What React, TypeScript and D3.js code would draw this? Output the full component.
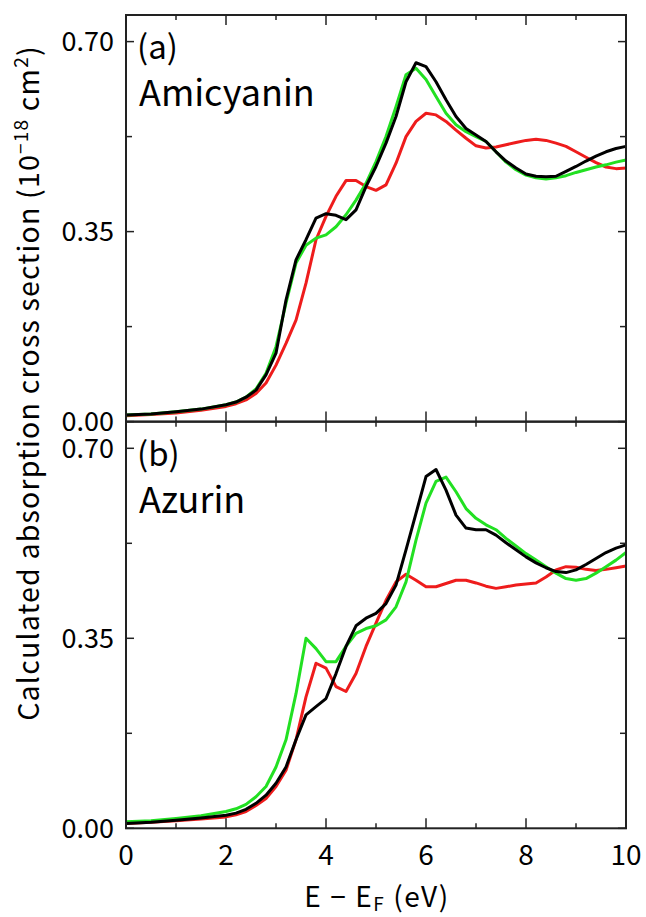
import { useEffect, useRef } from 'react';
import * as d3 from 'd3';

const ENERGY = [0, 0.5, 1, 1.5, 2, 2.2, 2.4, 2.6, 2.8, 3.0, 3.2, 3.4, 3.6, 3.8, 4.0, 4.2, 4.4, 4.6, 4.8, 5.0,
  5.2, 5.4, 5.6, 5.8, 6.0, 6.2, 6.4, 6.6, 6.8, 7.0, 7.2, 7.4, 7.6, 7.8, 8.0, 8.2, 8.4, 8.6, 8.8, 9.0,
  9.2, 9.4, 9.6, 9.8, 10.0];

const AMI_BLACK = [0.012, 0.014, 0.018, 0.023, 0.031, 0.036, 0.045, 0.058, 0.086, 0.126, 0.224, 0.298, 0.335, 0.375, 0.383,
  0.38, 0.372, 0.39, 0.433, 0.47, 0.513, 0.562, 0.626, 0.661, 0.654, 0.626, 0.593, 0.562, 0.54, 0.528,
  0.516, 0.497, 0.48, 0.467, 0.456, 0.452, 0.451, 0.452, 0.461, 0.47, 0.48, 0.489, 0.497, 0.503, 0.507];
const AMI_GREEN = [0.012, 0.014, 0.018, 0.023, 0.031, 0.036, 0.045, 0.06, 0.089, 0.138, 0.218, 0.292, 0.325, 0.338, 0.344,
  0.359, 0.381, 0.408, 0.439, 0.479, 0.525, 0.58, 0.639, 0.651, 0.63, 0.599, 0.568, 0.547, 0.534, 0.525,
  0.516, 0.497, 0.478, 0.464, 0.454, 0.449, 0.447, 0.449, 0.453, 0.459, 0.464, 0.469, 0.473, 0.478, 0.482];
const AMI_RED = [0.011, 0.013, 0.016, 0.021, 0.028, 0.033, 0.04, 0.052, 0.071, 0.104, 0.144, 0.187, 0.255, 0.335, 0.378,
  0.415, 0.444, 0.444, 0.433, 0.426, 0.436, 0.476, 0.525, 0.553, 0.568, 0.565, 0.553, 0.537, 0.522, 0.508,
  0.504, 0.506, 0.51, 0.514, 0.518, 0.52, 0.518, 0.513, 0.507, 0.497, 0.487, 0.477, 0.469, 0.466, 0.467];

const AZU_BLACK = [0.009, 0.011, 0.015, 0.019, 0.024, 0.028, 0.035, 0.046, 0.061, 0.083, 0.113, 0.163, 0.209, 0.224, 0.239,
  0.285, 0.335, 0.373, 0.387, 0.396, 0.414, 0.448, 0.513, 0.58, 0.648, 0.661, 0.623, 0.577, 0.553, 0.55,
  0.55, 0.54, 0.526, 0.513, 0.5, 0.489, 0.48, 0.473, 0.471, 0.476, 0.486, 0.497, 0.508, 0.516, 0.522];
const AZU_GREEN = [0.012, 0.014, 0.018, 0.023, 0.031, 0.036, 0.044, 0.058, 0.077, 0.113, 0.163, 0.248, 0.35, 0.331, 0.307,
  0.307, 0.335, 0.359, 0.368, 0.373, 0.384, 0.408, 0.454, 0.531, 0.599, 0.639, 0.647, 0.62, 0.589, 0.571,
  0.559, 0.55, 0.534, 0.52, 0.506, 0.494, 0.482, 0.47, 0.46, 0.457, 0.46, 0.47, 0.482, 0.494, 0.508];
const AZU_RED = [0.009, 0.011, 0.014, 0.017, 0.021, 0.025, 0.031, 0.042, 0.055, 0.077, 0.107, 0.163, 0.242, 0.304, 0.295,
  0.261, 0.252, 0.285, 0.335, 0.378, 0.42, 0.454, 0.468, 0.457, 0.445, 0.445, 0.451, 0.457, 0.457, 0.452,
  0.446, 0.442, 0.445, 0.448, 0.45, 0.452, 0.463, 0.476, 0.482, 0.481, 0.477, 0.475, 0.477, 0.48, 0.483];

const X_TICKS = [0, 2, 4, 6, 8, 10];
const X_MINOR = [1, 3, 5, 7, 9];
const Y_TICKS = [0, 0.35, 0.7];
const Y_MINOR = [0.175, 0.525];

const PANELS = [
  { tag: "(a)", name: "Amicyanin", series: [AMI_RED, AMI_GREEN, AMI_BLACK] },
  { tag: "(b)", name: "Azurin", series: [AZU_RED, AZU_GREEN, AZU_BLACK] }
];
const COLORS = ["#ee1c1c", "#22e022", "#000000"];

const FONT = "'Noto Sans CJK JP', 'Liberation Sans', sans-serif";

export default function App() {
  const svgRef = useRef(null);

  useEffect(() => {
    const width = 646, height = 917;
    const left = 126, right = 626;
    const panelTops = [15, 421.7];
    const panelH = 406.6;

    const svg = d3.select(svgRef.current);
    svg.selectAll("*").remove();
    svg.attr("width", width).attr("height", height)
      .style("font-family", FONT);

    const x = d3.scaleLinear().domain([0, 10]).range([left, right]);

    PANELS.forEach((p, i) => {
      const top = panelTops[i];
      const bottom = top + panelH;
      const y = d3.scaleLinear().domain([0, 0.749]).range([bottom, top]);
      const g = svg.append("g");

      const line = d3.line<number>()
        .x((d, j) => x(ENERGY[j]))
        .y(d => y(d));

      p.series.forEach((s, k) => {
        g.append("path")
          .datum(s)
          .attr("d", line)
          .attr("fill", "none")
          .attr("stroke", COLORS[k])
          .attr("stroke-width", 3)
          .attr("stroke-linejoin", "round");
      });

      // frame
      g.append("rect")
        .attr("x", left).attr("y", top)
        .attr("width", right - left).attr("height", panelH)
        .attr("fill", "none").attr("stroke", "#222").attr("stroke-width", 2);

      // x ticks, both edges, inward
      const xt = [...X_TICKS.map(v => ({ v, len: 10 })), ...X_MINOR.map(v => ({ v, len: 5 }))];
      xt.forEach(t => {
        g.append("line").attr("x1", x(t.v)).attr("x2", x(t.v))
          .attr("y1", bottom).attr("y2", bottom - t.len)
          .attr("stroke", "#222").attr("stroke-width", 1.5);
        g.append("line").attr("x1", x(t.v)).attr("x2", x(t.v))
          .attr("y1", top).attr("y2", top + t.len)
          .attr("stroke", "#222").attr("stroke-width", 1.5);
      });

      const yt = [...Y_TICKS.map(v => ({ v, len: 8 })), ...Y_MINOR.map(v => ({ v, len: 6 }))];
      yt.forEach(t => {
        g.append("line").attr("x1", left).attr("x2", left + t.len)
          .attr("y1", y(t.v)).attr("y2", y(t.v))
          .attr("stroke", "#222").attr("stroke-width", 1.5);
        g.append("line").attr("x1", right).attr("x2", right - t.len)
          .attr("y1", y(t.v)).attr("y2", y(t.v))
          .attr("stroke", "#222").attr("stroke-width", 1.5);
      });

      g.selectAll(".ylab")
        .data(Y_TICKS)
        .enter()
        .append("text")
        .attr("x", 114)
        .attr("y", d => y(d))
        .attr("dy", "0.36em")
        .attr("text-anchor", "end")
        .style("font-size", "27px")
        .text(d => d.toFixed(2));

      g.append("text")
        .attr("x", 137).attr("y", top + 44)
        .style("font-size", "33px")
        .text(p.tag);
      g.append("text")
        .attr("x", 139).attr("y", top + 91)
        .style("font-size", "36px")
        .text(p.name);
    });

    svg.selectAll(".xlab")
      .data(X_TICKS)
      .enter()
      .append("text")
      .attr("x", d => x(d))
      .attr("y", 865)
      .attr("text-anchor", "middle")
      .style("font-size", "28px")
      .text(d => d);

    const xl = svg.append("text")
      .attr("x", (left + right) / 2 + 1)
      .attr("y", 907)
      .attr("text-anchor", "middle")
      .style("font-size", "28px")
      .style("letter-spacing", "1.6px");
    xl.append("tspan").text("E \u2212 E");
    xl.append("tspan").attr("dy", 4).style("font-size", "19px").text("F");
    xl.append("tspan").attr("dy", -4).text(" (eV)");

    const yl = svg.append("text")
      .attr("transform", "translate(39,383) rotate(-90)")
      .attr("text-anchor", "middle")
      .style("font-size", "28.5px")
      .style("letter-spacing", "1.2px");
    yl.append("tspan").text("Calculated absorption cross section (10");
    yl.append("tspan").attr("dy", -11).style("font-size", "19px").text("\u221218");
    yl.append("tspan").attr("dy", 11).text(" cm");
    yl.append("tspan").attr("dy", -11).style("font-size", "19px").text("2");
    yl.append("tspan").attr("dy", 11).text(")");
  }, []);

  return <svg ref={svgRef} style={{ position: "absolute", left: 0, top: 0 }}></svg>;
}
